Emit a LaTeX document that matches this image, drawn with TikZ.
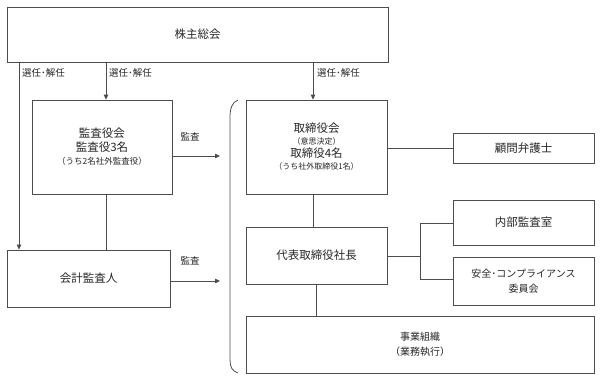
\documentclass[tikz,border=0pt]{standalone}
\usepackage{fontspec}
\setmainfont{Noto Sans CJK JP}
\usetikzlibrary{arrows.meta}
\begin{document}
\begin{tikzpicture}[x=1pt,y=-1pt,
  box/.style={draw=black!70,line width=0.8pt,inner sep=0pt,align=center,text=black!85,font=\fontsize{11.5}{14}\selectfont},
  ln/.style={draw=black!70,line width=0.8pt},
  arr/.style={ln,-{Triangle[width=4.5pt,length=5pt]}},
  lbl/.style={font=\fontsize{9.5}{11}\selectfont,text=black!85,inner sep=0pt}]
\useasboundingbox (0,0) rectangle (600,380);
\node[box,minimum width=381pt,minimum height=55pt] (kabu) at (197.5,34.5) {株主総会};
\node[box,minimum width=140pt,minimum height=94pt] (kansa) at (102,147) {監査役会\\[0pt]監査役3名\\[-1pt]{\fontsize{8.5}{10}\selectfont （うち2名社外監査役）}};
\node[box,minimum width=141pt,minimum height=94pt] (tori) at (316.5,147) {取締役会\\[-2pt]{\fontsize{8}{10}\selectfont （意思決定）}\\[-1pt]取締役4名\\[-2pt]{\fontsize{8}{10}\selectfont （うち社外取締役1名）}};
\node[box,minimum width=163pt,minimum height=57pt] (kaikei) at (88.5,278.5) {会計監査人};
\node[box,minimum width=141pt,minimum height=30pt] (komon) at (523.5,148) {顧問弁護士};
\node[box,minimum width=141pt,minimum height=57pt] (daihyo) at (316.5,255.5) {代表取締役社長};
\node[box,minimum width=141pt,minimum height=45pt] (naibu) at (523.5,222.5) {内部監査室};
\node[box,minimum width=141pt,minimum height=48pt,font=\fontsize{10}{15}\selectfont] (anzen) at (523.5,281) {安全･コンプライアンス\\委員会};
\node[box,minimum width=348pt,minimum height=57pt,font=\fontsize{10}{15}\selectfont] (jigyo) at (420,344.5) {事業組織\\（業務執行）};
% coordinates
\coordinate (xl) at (19,0);
\coordinate (xm) at (106,0);
\coordinate (xr) at (313,0);
\coordinate (xd) at (316,0);
\coordinate (a1) at (220,156);
\coordinate (a2) at (220,281);
\coordinate (bt) at (420,223);
\coordinate (bb) at (420,279);
\coordinate (bm) at (420,256);
% connectors
\draw[arr] (kabu.south -| xl) -- (kaikei.north -| xl);
\draw[arr] (kabu.south -| xm) -- (kansa.north -| xm);
\draw[arr] (kabu.south -| xr) -- (tori.north -| xr);
\node[lbl,anchor=west] (l1) at (22,73) {選任･解任};
\node[lbl,anchor=west] (l2) at (109,73) {選任･解任};
\node[lbl,anchor=west] (l3) at (317,73) {選任･解任};
\draw[arr] (a1 -| kansa.east) -- (a1);
\draw[arr] (a2 -| kaikei.east) -- (a2);
\node[lbl] (k1) at (190,137) {監査};
\node[lbl] (k2) at (190,261) {監査};
\draw[ln] (kansa.south -| xm) -- (kaikei.north -| xm);
\draw[ln] (komon.west -| tori.east) -- (komon.west);
\draw[ln] (tori.south -| xr) -- (daihyo.north -| xr);
\draw[ln] (daihyo.east |- bm) -- (bm);
\draw[ln] (naibu.west |- bt) -- (bt) -- (bb) -- (anzen.west |- bb);
\draw[ln] (daihyo.south -| xd) -- (jigyo.north -| xd);
% bracket
\draw[ln] (238,100) .. controls (232,102) and (230,109) .. (230,117) -- (230,360) .. controls (230,367) and (232,371) .. (238,373);
\end{tikzpicture}
\end{document}
